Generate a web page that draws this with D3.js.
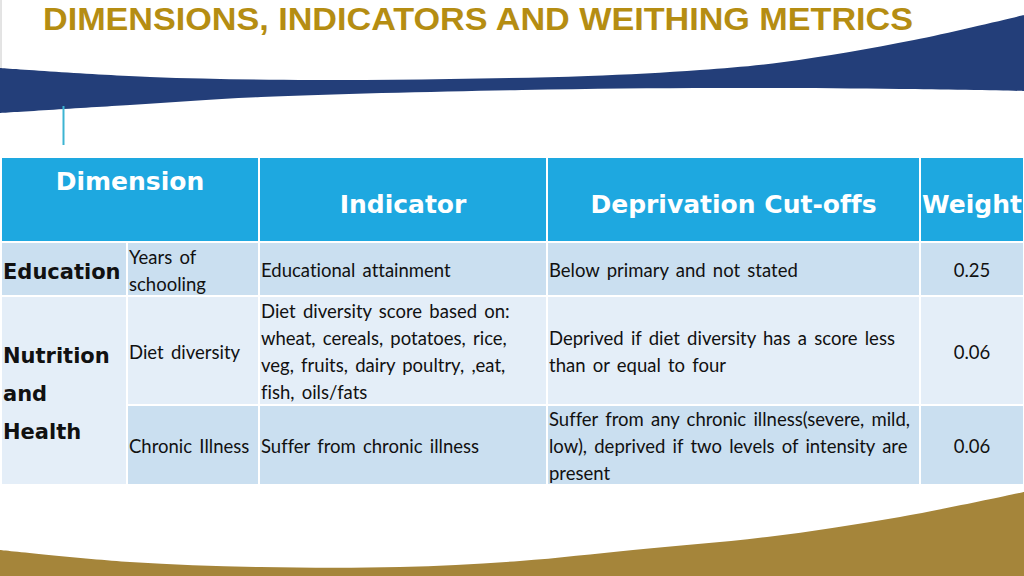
<!DOCTYPE html>
<html>
<head>
<meta charset="utf-8">
<script src="https://cdn.jsdelivr.net/npm/d3@7"></script>
<style>
  body { margin: 0; background: #fff; }
  svg { display: block; }
  text { font-variant-ligatures: none; }
</style>
</head>
<body>
<svg id="chart" width="1024" height="576"></svg>
<script>
// Slide content
const title = 'DIMENSIONS, INDICATORS AND WEITHING METRICS';
const headers = ['Dimension', 'Indicator', 'Deprivation Cut-offs', 'Weight'];
const dimensions = [['Education'], ['Nutrition', 'and', 'Health']];
const dimensionRowSpan = [1, 2];
const subDimensions = [['Years of', 'schooling'], ['Diet diversity'], ['Chronic Illness']];
const indicators = [
  ['Educational attainment'],
  ['Diet diversity score based on:', 'wheat, cereals, potatoes, rice,', 'veg, fruits, dairy poultry, ,eat,', 'fish, oils/fats'],
  ['Suffer from chronic illness']
];
const cutoffs = [
  ['Below primary and not stated'],
  ['Deprived if diet diversity has a score less', 'than or equal to four'],
  ['Suffer from any chronic illness(severe, mild,', 'low), deprived if two levels of intensity are', 'present']
];
const weights = [0.25, 0.06, 0.06];

// Layout
const W = 1024, H = 576;
const colEdges = [1, 127, 259, 547, 920, 1024];
const headerTop = 157, headerBottom = 242;
const rowEdges = [242, 296, 405, 485];
const lineH = 27;
const colors = {
  navy: '#233E79',
  gold: '#A5853A',
  title: '#B58D12',
  header: '#1EA8E0',
  rowDark: '#CADFF0',
  rowLight: '#E4EEF8',
  teal: '#3CB4D2',
  text: '#111'
};
const bodyFont = 'Lato, "Open Sans", sans-serif';
const boldFont = '"DejaVu Sans", sans-serif';

const svg = d3.select('#chart');

// Decorative swooshes
const swoosh = d3.line().curve(d3.curveCatmullRom.alpha(0.5));
const navyTop = [[0, 68], [150, 77], [313, 80], [450, 79], [588, 76], [700, 70], [784, 62], [914, 40], [1024, 15]];
const navyBottom = [[1024, 91], [900, 89], [718, 88], [522, 90], [261, 97], [130, 105], [0, 113]];
svg.append('path')
  .attr('d', swoosh(navyTop) + swoosh(navyBottom).replace(/^M/, 'L') + 'Z')
  .attr('fill', colors.navy);

const goldTop = [[0, 550], [130, 562], [260, 567], [400, 567], [520, 561], [633, 550], [767, 537], [900, 517], [1024, 492]];
svg.append('path')
  .attr('d', swoosh(goldTop) + 'L1024,576L0,576Z')
  .attr('fill', colors.gold);

svg.append('line')
  .attr('x1', 1).attr('x2', 1).attr('y1', 0).attr('y2', 68)
  .attr('stroke', '#c8c8c8').attr('stroke-width', 1);

svg.append('line')
  .attr('x1', 63.5).attr('x2', 63.5).attr('y1', 106).attr('y2', 145)
  .attr('stroke', colors.teal).attr('stroke-width', 2);

// Title
svg.append('text')
  .attr('x', 43).attr('y', 30)
  .attr('textLength', 870).attr('lengthAdjust', 'spacingAndGlyphs')
  .style('font-family', '"Liberation Sans", Arial, sans-serif')
  .style('font-weight', 700)
  .style('font-size', '32px')
  .style('fill', colors.title)
  .text(title);

// Table
const table = svg.append('g');

const cell = (x0, x1, y0, y1, fill) => table.append('rect')
  .attr('x', x0).attr('y', y0)
  .attr('width', x1 - x0).attr('height', y1 - y0)
  .attr('fill', fill)
  .attr('stroke', '#fff').attr('stroke-width', 2);

const writeLines = (lines, x, cy, opts) => {
  const n = lines.length;
  const t = table.append('text')
    .attr('text-anchor', opts.anchor || 'start')
    .style('font-family', opts.font)
    .style('font-weight', opts.weight || 400)
    .style('font-size', opts.size + 'px')
    .style('word-spacing', (opts.wordSpacing || 0) + 'px')
    .style('fill', opts.fill || colors.text);
  t.selectAll('tspan')
    .data(lines)
    .join('tspan')
    .attr('x', x)
    .attr('y', (d, i) => cy + opts.offset + (i - (n - 1) / 2) * opts.lh)
    .text(d => d);
};

const bodyOpts = { font: bodyFont, size: 18.5, lh: lineH, offset: 8, wordSpacing: 2.5 };
const dimOpts = { font: boldFont, weight: 700, size: 21, lh: 38, offset: 10 };
const headOpts = { font: boldFont, weight: 700, size: 25, lh: 30, offset: 13, fill: '#fff', anchor: 'middle' };

// header row: first header spans the two dimension columns
const headerSpans = [[0, 2], [2, 3], [3, 4], [4, 5]];
headers.forEach((h, i) => {
  const [a, b] = headerSpans[i];
  cell(colEdges[a], colEdges[b], headerTop, headerBottom, colors.header);
  const cx = (colEdges[a] + colEdges[b]) / 2;
  const cy = i === 0 ? headerTop + 20 : (headerTop + headerBottom) / 2;
  writeLines([h], cx, cy, headOpts);
});

const rowFill = i => (i % 2 === 0 ? colors.rowDark : colors.rowLight);
const fmt = d3.format('.2f');

// dimension column (with row spans)
let r = 0;
dimensions.forEach((lines, i) => {
  const y0 = rowEdges[r], y1 = rowEdges[r + dimensionRowSpan[i]];
  cell(colEdges[0], colEdges[1], y0, y1, rowFill(r));
  writeLines(lines, colEdges[0] + 2, (y0 + y1) / 2, dimOpts);
  r += dimensionRowSpan[i];
});

// remaining columns, one row each
subDimensions.forEach((sub, i) => {
  const y0 = rowEdges[i], y1 = rowEdges[i + 1], cy = (y0 + y1) / 2;
  const fill = rowFill(i);
  [sub, indicators[i], cutoffs[i]].forEach((lines, j) => {
    cell(colEdges[j + 1], colEdges[j + 2], y0, y1, fill);
    writeLines(lines, colEdges[j + 1] + 2, cy, bodyOpts);
  });
  cell(colEdges[4], colEdges[5], y0, y1, fill);
  writeLines([fmt(weights[i])], (colEdges[4] + colEdges[5]) / 2, cy, Object.assign({}, bodyOpts, { anchor: 'middle' }));
});
</script>
</body>
</html>
